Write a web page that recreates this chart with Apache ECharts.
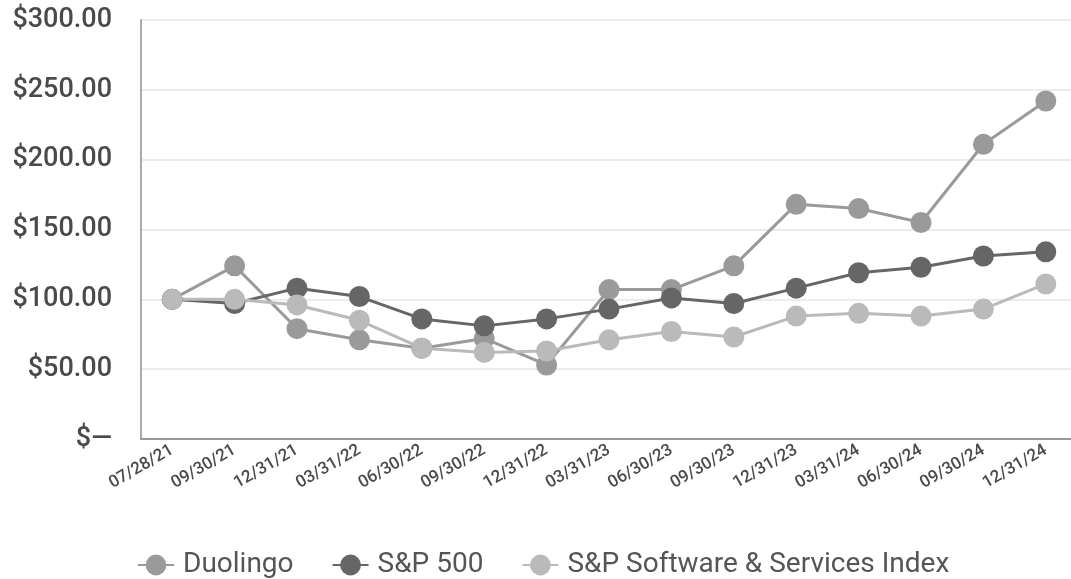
<!DOCTYPE html>
<html>
<head>
<meta charset="utf-8">
<script src="https://cdn.jsdelivr.net/npm/echarts@6/dist/echarts.min.js"></script>
<style>
  html, body { margin: 0; padding: 0; background: #fff; overflow: hidden; }
  #chart { width: 1077px; height: 579px; }
</style>
</head>
<body>
<div id="chart"></div>
<script>
var dates = ['07/28/21', '09/30/21', '12/31/21', '03/31/22', '06/30/22', '09/30/22', '12/31/22',
  '03/31/23', '06/30/23', '09/30/23', '12/31/23', '03/31/24', '06/30/24', '09/30/24', '12/31/24'];
var duolingo = [100, 124, 79, 71, 65, 72, 53, 107, 107, 124, 168, 165, 155, 211, 242];
var sp500 = [100, 97, 108, 102, 86, 81, 86, 93, 101, 97, 108, 119, 123, 131, 134];
var software = [100, 100, 96, 85, 65, 62, 63, 71, 77, 73, 88, 90, 88, 93, 111];

var font = 'Roboto, "DejaVu Sans", sans-serif';

function line(name, data, color) {
  return {
    name: name,
    type: 'line',
    data: data,
    symbol: 'circle',
    symbolSize: 21,
    lineStyle: { color: color, width: 3 },
    itemStyle: { color: color },
    emphasis: { disabled: true }
  };
}

var chart = echarts.init(document.getElementById('chart'));
chart.setOption({
  animation: false,
  grid: { left: 141, right: 0, top: 20, bottom: 140 },
  legend: {
    top: 546,
    left: 132,
    itemWidth: 36,
    itemHeight: 26,
    itemGap: 38,
    textStyle: { fontFamily: font, fontSize: 28, color: '#555', padding: [0, 0, 0, 4] },
    data: ['Duolingo', 'S&P 500', 'S&P Software & Services Index']
  },
  xAxis: {
    type: 'category',
    data: dates,
    boundaryGap: true,
    axisLine: { lineStyle: { color: '#999', width: 2 } },
    axisTick: { show: false },
    axisLabel: {
      rotate: 30,
      interval: 0,
      margin: 10,
      fontFamily: font,
      fontSize: 17,
      fontWeight: 500,
      color: '#4a4a4a'
    }
  },
  yAxis: {
    type: 'value',
    min: 0,
    max: 300,
    interval: 50,
    axisLine: { show: true, lineStyle: { color: '#aaa', width: 2 } },
    axisTick: { show: false },
    splitLine: { lineStyle: { color: '#e6e6e6', width: 1.5 } },
    axisLabel: {
      margin: 29,
      fontFamily: font,
      fontSize: 27,
      fontWeight: 500,
      color: '#4a4a4a',
      formatter: function (v) { return v === 0 ? '$\u2014' : '$' + v.toFixed(2); }
    }
  },
  series: [
    line('Duolingo', duolingo, '#9a9a9a'),
    line('S&P 500', sp500, '#666666'),
    line('S&P Software & Services Index', software, '#bababa')
  ]
});
</script>
</body>
</html>
